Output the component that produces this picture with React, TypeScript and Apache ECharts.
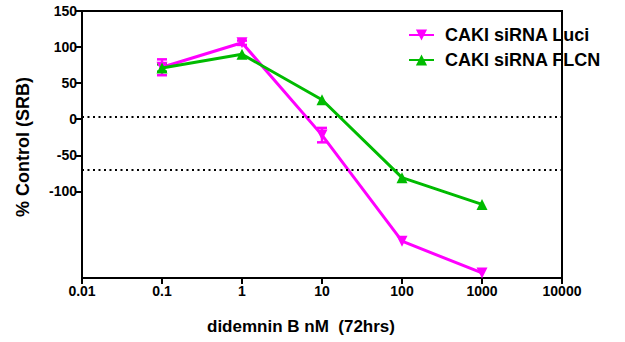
import React, { useEffect, useRef } from "react";
import * as echarts from "echarts";

const doses = [0.1, 1, 10, 100, 1000];
const luciValues = [72, 106, -22, -169, -213];
const luciErrors = [11, 3, 10, 0, 0];
const flcnValues = [71, 90, 27, -81, -118];
const flcnErrors = [5, 0, 0, 0, 0];
const xTickLabels = ["0.01", "0.1", "1", "10", "100", "1000", "10000"];
const yTickValues = [-100, -50, 0, 50, 100, 150];
const refLines = [3, -70];
const seriesNames = ["CAKI siRNA Luci", "CAKI siRNA FLCN"];

const MAGENTA = "#FF00FF";
const GREEN = "#00BB00";
const FONT = "'Liberation Sans', Arial, sans-serif";

function errData(vals: number[], errs: number[]) {
  return doses
    .map((d, i) => [d, vals[i] - errs[i], vals[i] + errs[i]])
    .filter((_, i) => errs[i] > 0);
}

function errSeries(vals: number[], errs: number[], color: string) {
  return {
    type: "custom",
    silent: true,
    z: 3,
    data: errData(vals, errs),
    renderItem: (params: any, api: any) => {
      const x = api.value(0);
      const lo = api.coord([x, api.value(1)]);
      const hi = api.coord([x, api.value(2)]);
      const hw = 5;
      const style = { stroke: color, lineWidth: 2.5 };
      return {
        type: "group",
        children: [
          { type: "line", shape: { x1: lo[0], y1: lo[1], x2: hi[0], y2: hi[1] }, style },
          { type: "line", shape: { x1: lo[0] - hw, y1: lo[1], x2: lo[0] + hw, y2: lo[1] }, style },
          { type: "line", shape: { x1: hi[0] - hw, y1: hi[1], x2: hi[0] + hw, y2: hi[1] }, style },
        ],
      };
    },
  };
}

export default function App() {
  const ref = useRef<HTMLDivElement>(null);
  useEffect(() => {
    if (!ref.current) return;
    document.body.style.margin = "0";
    const chart = echarts.init(ref.current, undefined, { renderer: "svg" });
    chart.setOption({
      animation: false,
      backgroundColor: "#fff",
      textStyle: { fontFamily: FONT },
      grid: {
        left: 82,
        right: 63,
        top: 11,
        bottom: 64,
        show: true,
        borderColor: "#000",
        borderWidth: 2,
        backgroundColor: "transparent",
      },
      legend: {
        orient: "vertical",
        left: 403,
        top: 21,
        itemWidth: 25,
        itemHeight: 14,
        itemGap: 7,
        data: seriesNames,
        textStyle: {
          fontFamily: FONT,
          fontWeight: "bold",
          fontSize: 18,
          color: "#000",
          padding: [0, 0, 0, 6],
        },
      },
      xAxis: {
        type: "log",
        logBase: 10,
        min: 0.01,
        max: 10000,
        axisLine: { onZero: false, lineStyle: { color: "#000", width: 2 } },
        axisTick: { length: 6, lineStyle: { color: "#000", width: 2 } },
        minorTick: { show: false },
        splitLine: { show: false },
        axisLabel: {
          margin: 6,
          fontFamily: FONT,
          fontWeight: "bold",
          fontSize: 14,
          color: "#000",
          formatter: (v: number) => {
            const idx = Math.round(Math.log10(v)) + 2;
            return xTickLabels[idx] ?? "";
          },
        },
      },
      yAxis: {
        type: "value",
        min: -220,
        max: 150,
        axisLine: { show: true, onZero: false, lineStyle: { color: "#000", width: 2 } },
        axisTick: {
          show: true,
          length: 6,
          lineStyle: { color: "#000", width: 2 },
          customValues: yTickValues,
        },
        splitLine: { show: false },
        axisLabel: {
          margin: 5,
          fontFamily: FONT,
          fontWeight: "bold",
          fontSize: 14,
          color: "#000",
          customValues: yTickValues,
        },
      },
      graphic: [
        {
          type: "text",
          x: 23,
          y: 147,
          rotation: Math.PI / 2,
          style: {
            text: "% Control (SRB)",
            fontFamily: FONT,
            fontWeight: "bold",
            fontSize: 18,
            fill: "#000",
            align: "center",
            verticalAlign: "middle",
          },
        },
        {
          type: "text",
          x: 301,
          y: 326,
          style: {
            text: "didemnin B nM  (72hrs)",
            fontFamily: FONT,
            fontWeight: "bold",
            fontSize: 17,
            fill: "#000",
            align: "center",
            verticalAlign: "middle",
          },
        },
      ],
      series: [
        {
          name: seriesNames[0],
          type: "line",
          z: 4,
          data: doses.map((d, i) => [d, luciValues[i]]),
          symbol: "triangle",
          symbolRotate: 180,
          symbolSize: 11,
          itemStyle: { color: MAGENTA },
          lineStyle: { color: MAGENTA, width: 3 },
          markLine: {
            silent: true,
            symbol: "none",
            label: { show: false },
            lineStyle: { color: "#000", width: 2, type: [2, 3.5] },
            data: refLines.map((v) => ({ yAxis: v })),
          },
        },
        {
          name: seriesNames[1],
          type: "line",
          z: 5,
          data: doses.map((d, i) => [d, flcnValues[i]]),
          symbol: "triangle",
          symbolSize: 11,
          itemStyle: { color: GREEN },
          lineStyle: { color: GREEN, width: 3 },
        },
        errSeries(luciValues, luciErrors, MAGENTA),
        errSeries(flcnValues, flcnErrors, GREEN),
      ],
    });
    return () => chart.dispose();
  }, []);
  return <div ref={ref} style={{ width: 625, height: 342 }} />;
}
